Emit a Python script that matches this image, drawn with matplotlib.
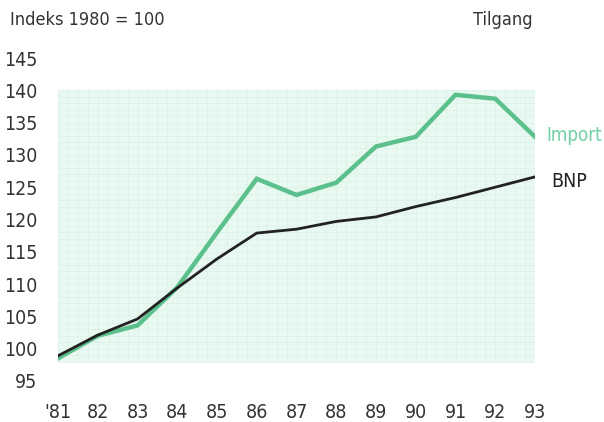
import numpy as np
import matplotlib.pyplot as plt

# Indeks, 1980 = 100
years = [81, 82, 83, 84, 85, 86, 87, 88, 89, 90, 91, 92, 93]
year_labels = ["'81", "82", "83", "84", "85", "86", "87", "88", "89", "90", "91", "92", "93"]
import_idx = [98.5, 102.0, 103.6, 109.5, 118.0, 126.3, 123.8, 125.7, 131.3, 132.8, 139.3, 138.7, 132.8]
bnp_idx = [98.9, 102.1, 104.6, 109.4, 113.9, 117.9, 118.5, 119.7, 120.4, 122.0, 123.4, 125.0, 126.6]
y_ticks = [95, 100, 105, 110, 115, 120, 125, 130, 135, 140, 145]

plt.rcParams['font.family'] = ['DejaVu Sans']
plt.rcParams['font.stretch'] = 'condensed'

green = '#5cc08c'
green_txt = '#73d0a4'
dark = '#222222'

fig = plt.figure(figsize=(6.04, 4.22), dpi=100)
ax = fig.add_axes([58 / 604, 41 / 422, 477 / 604, 323 / 422])

# lys bakgrunn med rutemønster
ax.fill_between([81, 93], 98, 140, color='#e8f9f1', lw=0, zorder=0)
for gx in np.arange(81, 93.01, 0.25):
    ax.plot([gx, gx], [98, 140], color='#dbf0e6', lw=0.5, zorder=0.5)
for gy in np.arange(98, 140.01, 1.0):
    ax.plot([81, 93], [gy, gy], color='#ddf1e7', lw=0.5, zorder=0.5)

ax.plot(years, import_idx, color=green, lw=3.2, solid_joinstyle='miter', zorder=2)
ax.plot(years, bnp_idx, color=dark, lw=2.0, zorder=3)

ax.set_xlim(81, 93)
ax.set_ylim(95, 145)
ax.set_xticks(years)
ax.set_xticklabels(year_labels)
ax.set_yticks(y_ticks)
ax.tick_params(length=0, labelsize=14, colors='#333333')
ax.tick_params(axis='x', pad=16)
ax.tick_params(axis='y', pad=15)
for s in ax.spines.values():
    s.set_visible(False)

fig.text(10 / 604, 1 - 20 / 422, 'Indeks 1980 = 100', fontsize=13, color='#333333', va='center', ha='left')
fig.text(533 / 604, 1 - 20 / 422, 'Tilgang', fontsize=13, color='#333333', va='center', ha='right')
ax.text(93.28, import_idx[-1] + 0.2, 'Import', fontsize=13.5, color=green_txt, va='center', ha='left')
ax.text(93.4, bnp_idx[-1] - 0.7, 'BNP', fontsize=14, color=dark, va='center', ha='left')

fig.savefig('out.png', dpi=100)
